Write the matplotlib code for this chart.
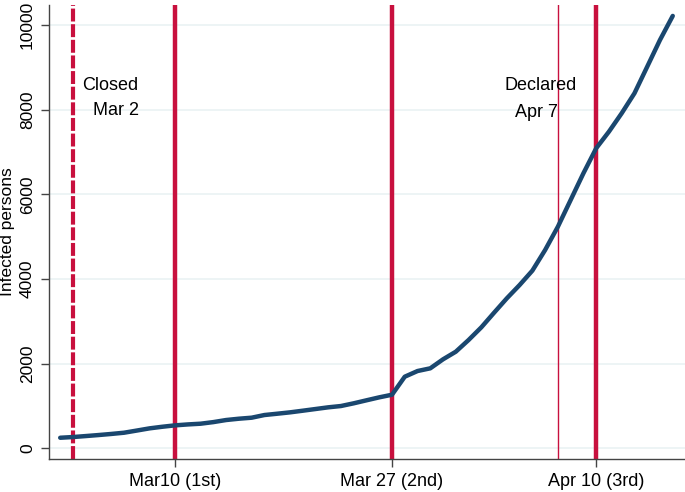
import matplotlib.pyplot as plt

# дни от 2 марта (закрытие школ) и число заражённых
days = list(range(-1, 48))
infected = [250, 267, 290, 314, 340, 369, 420, 472, 510, 543,
            565, 582, 620, 669, 700, 724, 787, 818, 850, 889,
            929, 969, 1000, 1064, 1135, 1205, 1267, 1693, 1827, 1891,
            2104, 2284, 2560, 2860, 3206, 3546, 3860, 4200, 4688, 5239,
            5870, 6501, 7092, 7485, 7920, 8392, 9021, 9652, 10220]

closed_day = 0
declared_day = 38
wave_days = [8, 25, 41]
wave_labels = ['Mar10 (1st)', 'Mar 27 (2nd)', 'Apr 10 (3rd)']
yticks = [0, 2000, 4000, 6000, 8000, 10000]

red = '#c8103e'
navy = '#1a476f'

plt.rcParams['font.family'] = 'Liberation Sans'

fig = plt.figure(figsize=(6.85, 4.92), dpi=100)
ax = fig.add_axes([0.0715, 0.067, 0.9285, 0.923])

ax.grid(axis='y', color='#eaf2f3', linewidth=1.2)
ax.set_axisbelow(True)

ax.axvline(closed_day, color=red, linewidth=3, linestyle=(0, (3.1, 0.65)))
for d in wave_days:
    ax.axvline(d, color=red, linewidth=3.2)
ax.axvline(declared_day, color=red, linewidth=1)

ax.plot(days, infected, color=navy, linewidth=3.2, solid_capstyle='round', zorder=5)

ax.text(0.75, 8565, 'Closed', fontsize=13, ha='left', va='center')
ax.text(1.6, 7990, 'Mar 2', fontsize=13, ha='left', va='center')
ax.text(33.85, 8565, 'Declared', fontsize=13, ha='left', va='center')
ax.text(34.6, 7930, 'Apr 7', fontsize=13, ha='left', va='center')

ax.set_xlim(-1.88, 47.96)
ax.set_ylim(-253, 10480)
ax.set_xticks(wave_days)
ax.set_xticklabels(wave_labels, fontsize=13)
ax.set_yticks(yticks)
ax.set_yticklabels([str(v) for v in yticks], fontsize=12.5, rotation=90, va='center')
ax.tick_params(length=6, width=1, color='#444444', pad=4)
ax.set_ylabel('Infected persons', fontsize=12.5, labelpad=4)

for s in ['top', 'right']:
    ax.spines[s].set_visible(False)
for s in ['left', 'bottom']:
    ax.spines[s].set_color('#444444')
    ax.spines[s].set_linewidth(1)

fig.savefig('out.png', dpi=100)
